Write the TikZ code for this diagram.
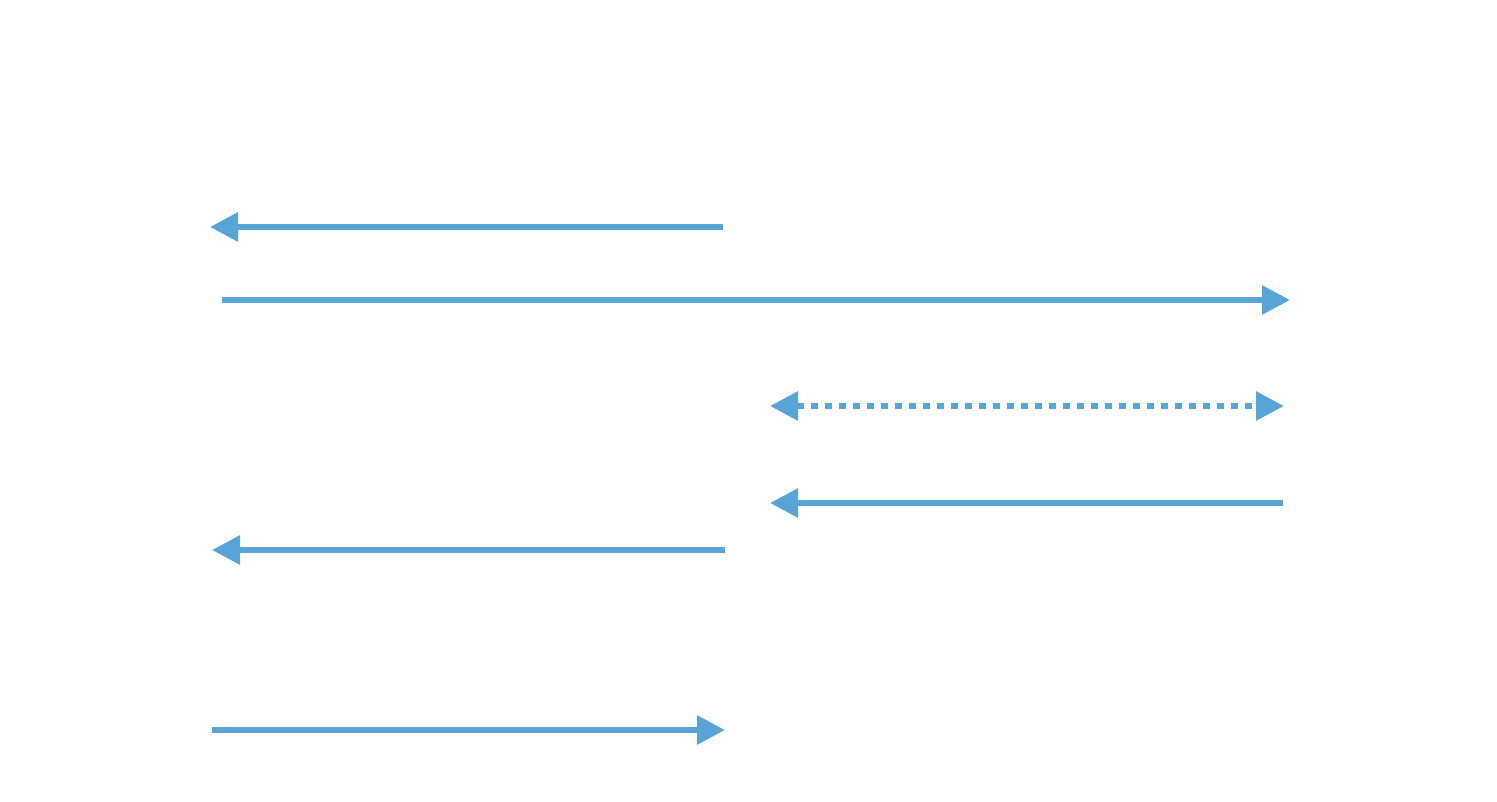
\documentclass[tikz,border=0pt]{standalone}
\usetikzlibrary{arrows.meta}
\definecolor{arrblue}{RGB}{88,164,214}
\begin{document}
\begin{tikzpicture}[x=1pt,y=-1pt,
  conn/.style={draw=arrblue,line width=6pt,-{Triangle[length=28pt,width=28pt]}},
  dconn/.style={draw=arrblue,line width=6pt,{Triangle[length=28pt,width=28pt]}-{Triangle[length=28pt,width=28pt]},dash pattern=on 7pt off 7pt}]
\useasboundingbox (0,0) rectangle (1497,802);
\coordinate (a1s) at (723,227); \coordinate (a1e) at (210,227);
\coordinate (a2s) at (222,300); \coordinate (a2e) at (1290,300);
\coordinate (a3s) at (770,406); \coordinate (a3e) at (1284,406);
\coordinate (a4s) at (1283,503); \coordinate (a4e) at (770,503);
\coordinate (a5s) at (725,550); \coordinate (a5e) at (212,550);
\coordinate (a6s) at (212,730); \coordinate (a6e) at (725,730);
\draw[conn] (a1s) -- (a1e);
\draw[conn] (a2s) -- (a2e);
\draw[dconn] (a3s) -- (a3e);
\draw[conn] (a4s) -- (a4e);
\draw[conn] (a5s) -- (a5e);
\draw[conn] (a6s) -- (a6e);
\end{tikzpicture}
\end{document}
